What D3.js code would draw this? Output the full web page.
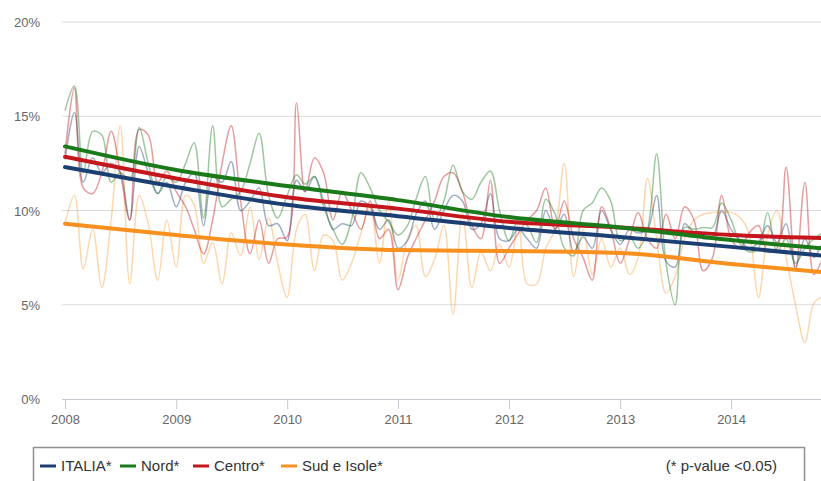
<!DOCTYPE html>
<html>
<head>
<meta charset="utf-8">
<script src="https://cdn.jsdelivr.net/npm/d3@7"></script>
<style>
  body { margin: 0; background: #fff; }
  svg { display: block; font-family: "Liberation Sans", Arial, sans-serif; }
</style>
</head>
<body>
<svg width="821" height="481"></svg>
<script>
// monthly values, Jan 2008 .. Dec 2014 (%)
var italia = [
  12.7, 15.2, 11.5, 12.8, 12.0, 12.5, 12.0, 9.5, 13.4, 12.0, 10.9, 11.5,
  10.2, 11.5, 12.0, 9.2, 11.8, 11.5, 12.6, 10.0, 10.5, 11.2, 9.2, 9.3,
  8.4, 11.6, 11.0, 11.8, 10.5, 9.0, 9.3, 9.2, 10.5, 10.2, 9.0, 9.5,
  8.0, 8.4, 9.8, 10.5, 9.0, 10.0, 10.8, 10.5, 9.0, 9.3, 10.9, 8.5,
  8.4, 9.0, 8.5, 8.0, 10.0, 9.0, 9.8, 7.8, 8.6, 8.0, 10.0, 9.0,
  8.2, 9.0, 8.8, 9.0, 10.8, 7.3, 7.0, 9.3, 8.8, 8.5, 8.6, 10.0,
  9.0, 8.4, 8.0, 8.3, 9.2, 8.3, 9.3, 7.0, 8.5, 7.5, 8.3, 8.0
];
var nord = [
  15.3, 16.6, 12.0, 14.2, 14.0, 11.5, 12.0, 11.6, 14.4, 12.5, 10.9, 11.8,
  11.5, 12.5, 13.6, 9.6, 14.5, 10.2, 10.6, 11.0, 12.5, 14.1, 10.8, 9.6,
  10.8, 11.9, 11.4, 11.8, 10.2, 9.0, 8.2, 9.5, 12.0, 11.2, 10.0, 9.4,
  8.7, 9.2, 10.6, 11.8, 9.5, 10.5, 12.4, 11.0, 10.6, 11.5, 12.1, 10.0,
  8.4, 9.5, 9.2, 8.3, 10.6, 9.8, 8.0, 7.6, 10.0, 10.4, 11.2, 10.5,
  8.4, 8.6, 8.0, 9.0, 13.0, 7.2, 5.0, 9.1, 9.0, 9.1, 9.1, 10.4,
  9.5, 8.2, 7.8, 8.0, 9.9, 7.8, 8.5, 7.2, 8.0, 8.5, 8.8, 8.6
];
var centro = [
  13.0, 16.5, 11.2, 10.9, 12.0, 14.2, 12.0, 9.5, 14.3, 14.0, 11.5, 12.1,
  11.0, 10.2, 9.0, 7.7, 9.5, 12.5, 14.5, 10.5, 7.7, 9.5, 7.2, 8.5,
  8.6, 15.7, 11.0, 12.8, 12.0, 9.5, 11.0, 10.0, 9.0, 10.5, 8.5, 9.0,
  5.8, 7.5, 8.5, 9.5, 10.5, 11.8, 12.0, 11.0, 9.2, 8.5, 11.6, 7.2,
  8.0, 8.8, 9.5, 10.0, 11.2, 9.0, 10.5, 8.5, 7.5, 6.3, 10.2, 9.0,
  7.2, 8.5, 9.9, 8.5, 8.0, 9.8, 8.5, 10.2, 9.5, 6.8, 7.5, 10.8,
  8.5, 8.0, 8.8, 9.2, 7.8, 8.0, 12.3, 6.8, 11.5, 6.6, 7.5, 8.0
];
var sud = [
  9.3, 10.8, 6.9, 9.0, 5.9, 9.5, 14.5, 6.1, 10.8, 9.3, 6.3, 9.5,
  7.0, 10.8, 10.3, 7.2, 8.3, 6.1, 8.8, 7.6, 10.2, 7.4, 9.6, 7.2,
  5.4, 9.0, 9.8, 6.8, 8.7, 8.4, 6.3, 7.2, 8.8, 10.2, 7.2, 10.5,
  6.3, 8.5, 9.2, 6.5, 7.4, 9.2, 4.5, 9.9, 5.9, 7.8, 6.8, 8.2,
  7.0, 9.3, 6.1, 6.1, 8.0, 9.0, 12.5, 6.5, 9.0, 6.6, 8.5, 7.0,
  8.0, 6.6, 7.5, 11.7, 8.5, 5.6, 6.5, 8.5, 9.5, 9.8, 9.9, 9.9,
  9.9, 9.6, 8.8, 5.4, 8.7, 10.0, 7.5, 5.0, 3.0, 5.1, 5.5, 6.0
];

// trend lines, read at the start of each year and at Dec 2014
var trendMonths = [0, 12, 24, 36, 48, 60, 72, 83];
var italiaTrend = [12.3, 11.25, 10.3, 9.7, 9.07, 8.6, 8.07, 7.55];
var nordTrend   = [13.4, 12.15, 11.3, 10.55, 9.65, 9.1, 8.43, 7.95];
var centroTrend = [12.85, 11.7, 10.7, 10.1, 9.4, 9.1, 8.7, 8.52];
var sudTrend    = [9.3, 8.7, 8.2, 7.9, 7.85, 7.75, 7.16, 6.68];

var seriesNames = ["ITALIA*", "Nord*", "Centro*", "Sud e Isole*"];
var seriesColors = ["#1b3f73", "#1a7a1a", "#c4161c", "#f7901e"];
var yTicks = [0, 5, 10, 15, 20];
var xYears = [2008, 2009, 2010, 2011, 2012, 2013, 2014];
var note = "(* p-value <0.05)";

var series = [
  { name: seriesNames[0], color: seriesColors[0], values: italia, trend: italiaTrend },
  { name: seriesNames[1], color: seriesColors[1], values: nord, trend: nordTrend },
  { name: seriesNames[2], color: seriesColors[2], values: centro, trend: centroTrend },
  { name: seriesNames[3], color: seriesColors[3], values: sud, trend: sudTrend }
];

var svg = d3.select("svg"),
    width = 821,
    height = 481;

var x = d3.scaleTime()
    .domain([new Date(2008, 0, 1), new Date(2015, 0, 1)])
    .range([65, 842]);
var y = d3.scaleLinear().domain([0, 20]).range([399, 22]);

function monthDate(m) { return new Date(2008, m, 1); }

svg.append("defs").append("clipPath").attr("id", "plot")
  .append("rect").attr("x", 60).attr("y", 0).attr("width", width - 60).attr("height", 400);

// grid lines
svg.append("g")
  .selectAll("line")
  .data(yTicks.filter(function(d) { return d > 0; }))
  .enter().append("line")
    .attr("x1", 62).attr("x2", width)
    .attr("y1", function(d) { return y(d); })
    .attr("y2", function(d) { return y(d); })
    .attr("stroke", "#dcdcdc")
    .attr("stroke-width", 1);

// y labels
svg.append("g")
  .selectAll("text")
  .data(yTicks)
  .enter().append("text")
    .attr("x", 40)
    .attr("y", function(d) { return y(d) + 5; })
    .attr("text-anchor", "end")
    .attr("font-size", "13px")
    .attr("fill", "#666")
    .text(function(d) { return d + "%"; });

// x axis
var xAxis = d3.axisBottom(x)
    .tickValues(xYears.map(function(yr) { return new Date(yr, 0, 1); }))
    .tickFormat(d3.timeFormat("%Y"))
    .tickSizeInner(10)
    .tickSizeOuter(0);

var gx = svg.append("g")
    .attr("transform", "translate(0,399)")
    .call(xAxis);
gx.select(".domain").attr("stroke", "#c8c8d0").attr("d", "M62,0.5H" + width);
gx.selectAll(".tick line").attr("stroke", "#c8c8d0");
gx.selectAll(".tick text")
    .attr("font-family", "Liberation Sans, Arial, sans-serif")
    .attr("font-size", "13px")
    .attr("fill", "#666")
    .attr("dy", "0.95em");

var plot = svg.append("g").attr("clip-path", "url(#plot)");

var thin = d3.line()
    .x(function(d, i) { return x(monthDate(i)); })
    .y(function(d) { return y(d); })
    .curve(d3.curveCatmullRom.alpha(0.5));

var thick = d3.line()
    .x(function(d, i) { return x(monthDate(trendMonths[i])); })
    .y(function(d) { return y(d); })
    .curve(d3.curveMonotoneX);

// noisy monthly lines, Sud drawn first so it sits underneath
[3, 0, 2, 1].forEach(function(k) {
  plot.append("path")
    .datum(series[k].values)
    .attr("fill", "none")
    .attr("stroke", series[k].color)
    .attr("stroke-opacity", k === 3 ? 0.35 : 0.42)
    .attr("stroke-width", 1.5)
    .attr("d", thin);
});

// trend lines
[3, 0, 2, 1].forEach(function(k) {
  plot.append("path")
    .datum(series[k].trend)
    .attr("fill", "none")
    .attr("stroke", series[k].color)
    .attr("stroke-width", 4)
    .attr("stroke-linecap", "round")
    .attr("d", thick);
});

// legend
var legend = svg.append("g").attr("class", "legend");
legend.append("rect")
    .attr("x", 33.5).attr("y", 447.5)
    .attr("width", 771).attr("height", 40)
    .attr("fill", "#fff")
    .attr("stroke", "#909090")
    .attr("stroke-width", 1.5);

var legendX = [40, 120, 193, 281];
series.forEach(function(s, i) {
  var item = legend.append("g").attr("transform", "translate(" + legendX[i] + ",466)");
  item.append("line")
    .attr("x1", 0).attr("x2", 16)
    .attr("y1", 0).attr("y2", 0)
    .attr("stroke", s.color)
    .attr("stroke-width", 3);
  item.append("text")
    .attr("x", 21).attr("y", 5)
    .attr("font-size", "15px")
    .attr("fill", "#333")
    .text(s.name);
});

legend.append("text")
    .attr("x", 777).attr("y", 471)
    .attr("text-anchor", "end")
    .attr("font-size", "15px")
    .attr("fill", "#333")
    .text(note);
</script>
</body>
</html>
